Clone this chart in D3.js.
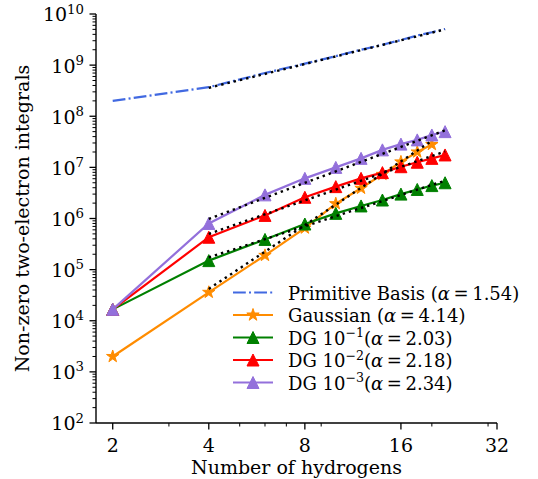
<!DOCTYPE html>
<html>
<head>
<meta charset="utf-8">
<script src="https://cdn.jsdelivr.net/npm/d3@7/dist/d3.min.js"></script>
<style>
  html, body { margin: 0; padding: 0; background: #fff; }
  svg text { font-family: "DejaVu Serif", serif; fill: #000; }
</style>
</head>
<body>
<svg id="chart" width="538" height="479"></svg>
<script>
// ---------- data ----------
const hydrogens      = [2, 4, 6, 8, 10, 12, 14, 16, 18, 20, 22];
const hydrogensGauss = [2, 4, 6, 8, 10, 12, 14, 16, 18, 20];
const primitive = [2.0e8, 3.7e8, 7.0e8, 1.07e9, 1.5e9, 2.0e9, 2.5e9, 3.1e9, 3.8e9, 4.4e9, 5.1e9];
const gaussian  = [2.0e3, 3.6e4, 1.9e5, 6.5e5, 1.95e6, 3.9e6, 7.3e6, 1.28e7, 2.0e7, 2.8e7];
const dg1 = [1.67e4, 1.5e5, 3.9e5, 7.8e5, 1.26e6, 1.76e6, 2.3e6, 3.0e6, 3.7e6, 4.4e6, 5.0e6];
const dg2 = [1.67e4, 4.3e5, 1.15e6, 2.6e6, 4.2e6, 6.1e6, 7.9e6, 1.03e7, 1.26e7, 1.5e7, 1.75e7];
const dg3 = [1.67e4, 8.0e5, 2.9e6, 6.1e6, 1.0e7, 1.5e7, 2.2e7, 2.85e7, 3.45e7, 4.3e7, 5.0e7];

// power-law fit lines (endpoints)
const fitX      = [4, 22];
const fitXGauss = [4, 20];
const fitPrimitive = [3.6e8, 5.0e9];
const fitGaussian  = [4.2e4, 3.3e7];
const fitDG1 = [1.73e5, 5.5e6];
const fitDG2 = [5.0e5, 2.05e7];
const fitDG3 = [9.8e5, 5.3e7];

const seriesNames = ["Primitive Basis", "Gaussian", "DG 10", "DG 10", "DG 10"];
const seriesExps  = ["", "", "\u22121", "\u22122", "\u22123"];
const alphas      = ["1.54", "4.14", "2.03", "2.18", "2.34"];
const seriesColors = ["#4169E1", "#FF8C00", "#008000", "#FF0000", "#9370DB"];

const xMajorTicks = [2, 4, 8, 16, 32];
const xMinorTicks = [3, 5, 6, 7, 9, 20, 30];
const yExponents  = [2, 3, 4, 5, 6, 7, 8, 9, 10];

// ---------- layout ----------
const svg = d3.select("#chart");
const mLeft = 96, mRight = 497, mTop = 14, mBottom = 423;
const FS = 19, FS_SUP = 13.3;

const x = d3.scaleLog().base(2).domain([Math.pow(2, 0.826), 32]).range([mLeft, mRight]);
const y = d3.scaleLog().domain([1e2, 1e10]).range([mBottom, mTop]);

// ---------- axes ----------
const axis = svg.append("g").attr("stroke", "#000");
axis.append("line").attr("x1", mLeft).attr("x2", mLeft).attr("y1", mTop).attr("y2", mBottom).attr("stroke-width", 1.4);
axis.append("line").attr("x1", mLeft).attr("x2", mRight).attr("y1", mBottom).attr("y2", mBottom).attr("stroke-width", 1.4);

const yMinor = [];
yExponents.slice(0, -1).forEach(e => { for (let k = 2; k <= 9; k++) yMinor.push(k * Math.pow(10, e)); });
yMinor.forEach(v => axis.append("line").attr("x1", mLeft).attr("x2", mLeft - 3.5)
  .attr("y1", y(v)).attr("y2", y(v)).attr("stroke-width", 1));
yExponents.forEach(e => {
  const v = Math.pow(10, e);
  axis.append("line").attr("x1", mLeft).attr("x2", mLeft - 6.5)
    .attr("y1", y(v)).attr("y2", y(v)).attr("stroke-width", 1.3);
  const t = svg.append("text").attr("x", 84).attr("y", y(v) + 7.4)
    .attr("text-anchor", "end").attr("font-size", FS);
  t.append("tspan").text("10");
  t.append("tspan").attr("dy", -7.8).attr("font-size", FS_SUP).text(String(e));
});

xMinorTicks.forEach(v => axis.append("line").attr("x1", x(v)).attr("x2", x(v))
  .attr("y1", mBottom).attr("y2", mBottom + 3.5).attr("stroke-width", 1));
xMajorTicks.forEach(v => {
  axis.append("line").attr("x1", x(v)).attr("x2", x(v))
    .attr("y1", mBottom).attr("y2", mBottom + 6.5).attr("stroke-width", 1.3);
  svg.append("text").attr("x", x(v)).attr("y", 452).attr("text-anchor", "middle")
    .attr("font-size", FS).text(String(v));
});

svg.append("text").attr("x", (mLeft + mRight) / 2).attr("y", 474).attr("text-anchor", "middle")
  .attr("font-size", FS).text("Number of hydrogens");
svg.append("text").attr("transform", `translate(29,${(mTop + mBottom) / 2}) rotate(-90)`)
  .attr("text-anchor", "middle").attr("font-size", FS).text("Non-zero two-electron integrals");

// ---------- markers ----------
function triPath(h) { return `M0,${-h}L${h},${h}L${-h},${h}Z`; }
function starPath(R) {
  const r = R * 0.381966; let p = "";
  for (let i = 0; i < 10; i++) {
    const rad = i % 2 === 0 ? R : r;
    const a = -Math.PI / 2 + i * Math.PI / 5;
    p += (i === 0 ? "M" : "L") + (rad * Math.cos(a)).toFixed(2) + "," + (rad * Math.sin(a)).toFixed(2);
  }
  return p + "Z";
}

const plot = svg.append("g");
const line = d3.line().x(d => x(d[0])).y(d => y(d[1]));
const zip = (a, b) => a.map((v, i) => [v, b[i]]);

const series = [
  { xs: hydrogens, ys: primitive, color: seriesColors[0], dash: "12.8,3.2,2,3.2", marker: null },
  { xs: hydrogensGauss, ys: gaussian, color: seriesColors[1], dash: null, marker: starPath(6.5) },
  { xs: hydrogens, ys: dg1, color: seriesColors[2], dash: null, marker: triPath(6) },
  { xs: hydrogens, ys: dg2, color: seriesColors[3], dash: null, marker: triPath(6) },
  { xs: hydrogens, ys: dg3, color: seriesColors[4], dash: null, marker: triPath(6) }
];

series.forEach(s => {
  const p = plot.append("path").datum(zip(s.xs, s.ys)).attr("d", line)
    .attr("fill", "none").attr("stroke", s.color).attr("stroke-width", 2.2);
  if (s.dash) p.attr("stroke-dasharray", s.dash);
  if (s.marker) {
    plot.selectAll(null).data(zip(s.xs, s.ys)).enter().append("path")
      .attr("d", s.marker).attr("transform", d => `translate(${x(d[0])},${y(d[1])})`)
      .attr("fill", s.color).attr("stroke", s.color).attr("stroke-width", 1);
  }
});

[[fitX, fitPrimitive], [fitXGauss, fitGaussian], [fitX, fitDG1], [fitX, fitDG2], [fitX, fitDG3]]
  .forEach(([fx, fy]) => {
    plot.append("path").datum(zip(fx, fy)).attr("d", line)
      .attr("fill", "none").attr("stroke", "#000").attr("stroke-width", 2.4)
      .attr("stroke-dasharray", "2.4,4");
  });

// ---------- legend ----------
const legend = svg.append("g");
series.forEach((s, i) => {
  const cy = 292.5 + i * 22.5;
  const l = legend.append("line").attr("x1", 233).attr("x2", 273).attr("y1", cy).attr("y2", cy)
    .attr("stroke", s.color).attr("stroke-width", 2.2);
  if (s.dash) l.attr("stroke-dasharray", s.dash);
  if (s.marker) legend.append("path").attr("d", s.marker).attr("transform", `translate(253,${cy})`)
    .attr("fill", s.color).attr("stroke", s.color).attr("stroke-width", 1);
  const t = legend.append("text").attr("x", 288).attr("y", cy + 7).attr("font-size", 18);
  if (seriesExps[i]) {
    t.append("tspan").text(seriesNames[i]);
    t.append("tspan").attr("font-size", 12.6).attr("dy", -7.5).text(seriesExps[i]);
    t.append("tspan").attr("dy", 7.5).text("(");
  } else {
    t.append("tspan").text(seriesNames[i] + " (");
  }
  t.append("tspan").attr("font-style", "italic").text("\u03b1");
  t.append("tspan").text("\u2009=\u2009" + alphas[i] + ")");
});
</script>
</body>
</html>
